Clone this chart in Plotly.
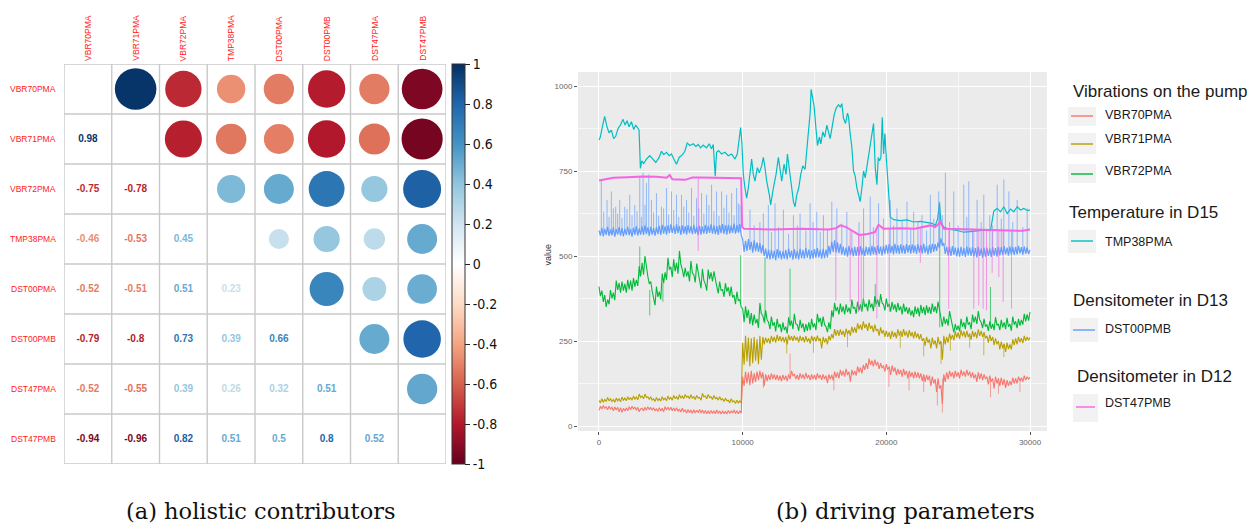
import plotly.graph_objects as go
from plotly.colors import hex_to_rgb, sample_colorscale

W, H = 1255, 524

# ---------------- (a) correlation matrix data ----------------
variables = ["VBR70PMA", "VBR71PMA", "VBR72PMA", "TMP38PMA",
             "DST00PMA", "DST00PMB", "DST47PMA", "DST47PMB"]
corr_lower = [
    [],
    [0.98],
    [-0.75, -0.78],
    [-0.46, -0.53, 0.45],
    [-0.52, -0.51, 0.51, 0.23],
    [-0.79, -0.80, 0.73, 0.39, 0.66],
    [-0.52, -0.55, 0.39, 0.26, 0.32, 0.51],
    [-0.94, -0.96, 0.82, 0.51, 0.50, 0.80, 0.52],
]
cbar_tickvals = [-1, -0.8, -0.6, -0.4, -0.2, 0, 0.2, 0.4, 0.6, 0.8, 1]
cbar_ticktext = ["-1", "-0.8", "-0.6", "-0.4", "-0.2", "0", "0.2", "0.4", "0.6", "0.8", "1"]
corr_palette = ["#67001F", "#B2182B", "#D6604D", "#F4A582", "#FDDBC7", "#FFFFFF",
                "#D1E5F0", "#92C5DE", "#4393C3", "#2166AC", "#053061"]

# ---------------- (b) driving parameters data ----------------
t_grid = list(range(0, 30001, 100))  # sample index positions (one row below = 1000 samples)

vbr70_y = [
    46, 58, 50, 60, 52, 56, 48, 58, 50, 55,
    45, 56, 47, 55, 42, 54, 40, 52, 44, 53,
    45, 57, 48, 58, 50, 56, 46, 55, 42, 50,
    52, 44, 55, 46, 57, 48, 55, 46, 54, 45,
    50, 43, 54, 44, 52, 42, 57, 47, 55, 46,
    55, 45, 53, 44, 54, 43, 50, 41, 52, 42,
    47, 38, 49, 39, 47, 37, 48, 38, 46, 39,
    49, 38, 47, 37, 46, 36, 45, 36, 46, 37,
    45, 36, 47, 37, 44, 35, 45, 36, 43, 35,
    46, 37, 45, 38, 47, 37, 45, 36, 44, 38,
    145, 118, 160, 125, 158, 120, 162, 125, 155, 130,
    160, 135, 162, 140, 158, 118, 152, 132, 150, 135,
    155, 138, 152, 136, 150, 134, 148, 132, 150, 136,
    148, 132, 152, 138, 162, 148, 152, 138, 150, 136,
    155, 140, 152, 138, 156, 140, 150, 135, 152, 138,
    150, 136, 155, 140, 150, 136, 152, 138, 148, 126,
    152, 138, 150, 134, 160, 142, 158, 140, 165, 148,
    162, 145, 168, 150, 160, 130, 165, 150, 162, 148,
    175, 158, 172, 155, 180, 165, 185, 168, 198, 180,
    192, 175, 195, 178, 188, 168, 185, 170, 178, 160,
    182, 165, 175, 150, 178, 160, 172, 150, 168, 152,
    165, 145, 168, 150, 162, 140, 162, 145, 158, 140,
    160, 142, 158, 140, 155, 132, 152, 130, 150, 135,
    148, 118, 145, 125, 138, 100, 140, 110, 120, 65,
    152, 130, 158, 138, 162, 145, 158, 140, 162, 145,
    158, 140, 165, 148, 160, 145, 165, 148, 160, 142,
    158, 140, 152, 130, 158, 138, 155, 135, 152, 138,
    145, 122, 148, 130, 140, 110, 145, 125, 140, 118,
    142, 120, 138, 112, 135, 118, 132, 120, 142, 125,
    140, 125, 145, 132, 142, 130, 148, 135, 145, 138,
    143,
]
vbr71_y = [
    75, 68, 80, 70, 78, 72, 84, 74, 80, 72,
    78, 70, 82, 74, 80, 71, 85, 76, 82, 74,
    86, 77, 84, 76, 88, 79, 85, 77, 94, 84,
    88, 80, 94, 84, 86, 78, 86, 76, 80, 72,
    84, 75, 80, 73, 86, 77, 82, 74, 88, 79,
    84, 76, 90, 80, 86, 78, 92, 82, 88, 80,
    93, 84, 88, 80, 92, 82, 86, 78, 90, 82,
    84, 76, 96, 86, 88, 80, 93, 84, 86, 78,
    90, 80, 84, 76, 86, 77, 80, 72, 82, 74,
    76, 68, 80, 71, 74, 66, 76, 68, 74, 68,
    245, 180, 265, 190, 260, 176, 258, 185, 262, 192,
    255, 182, 265, 195, 262, 240, 260, 245, 258, 242,
    265, 248, 262, 245, 268, 250, 264, 248, 262, 246,
    262, 240, 268, 252, 264, 250, 266, 252, 262, 246,
    265, 250, 262, 246, 264, 248, 258, 242, 265, 250,
    262, 248, 266, 250, 258, 228, 262, 246, 258, 240,
    265, 252, 270, 258, 285, 266, 282, 265, 284, 268,
    280, 262, 286, 270, 282, 266, 292, 275, 290, 274,
    302, 285, 298, 282, 308, 288, 300, 280, 304, 286,
    295, 276, 298, 280, 285, 266, 290, 272, 282, 262,
    280, 262, 276, 256, 280, 262, 275, 258, 284, 266,
    280, 262, 285, 266, 278, 260, 282, 264, 276, 258,
    278, 260, 272, 255, 270, 250, 258, 236, 262, 245,
    255, 228, 260, 240, 252, 228, 262, 240, 250, 195,
    265, 240, 262, 245, 272, 255, 268, 252, 278, 260,
    275, 256, 282, 264, 278, 260, 280, 262, 272, 254,
    280, 262, 276, 258, 284, 265, 280, 262, 276, 258,
    265, 245, 268, 250, 262, 238, 258, 240, 250, 225,
    248, 228, 242, 218, 245, 226, 240, 225, 255, 238,
    258, 240, 262, 246, 258, 244, 265, 250, 262, 252,
    260,
]
vbr72_y = [
    410, 382, 398, 365, 385, 350, 372, 358, 400, 375,
    392, 370, 428, 400, 420, 392, 425, 398, 418, 392,
    430, 402, 428, 398, 435, 410, 430, 412, 470, 440,
    480, 445, 500, 462, 440, 418, 425, 398, 372, 355,
    410, 380, 395, 372, 448, 420, 452, 430, 495, 460,
    468, 438, 490, 455, 480, 448, 515, 475, 460, 438,
    465, 440, 455, 425, 485, 450, 445, 422, 478, 450,
    430, 405, 462, 428, 418, 398, 460, 432, 452, 425,
    455, 425, 410, 390, 425, 398, 402, 380, 420, 395,
    408, 382, 410, 378, 385, 358, 395, 368, 372, 350,
    345, 305, 352, 318, 342, 300, 332, 296, 328, 302,
    315, 288, 362, 330, 325, 305, 340, 312, 305, 285,
    322, 295, 305, 278, 315, 290, 300, 276, 305, 282,
    292, 272, 320, 295, 310, 285, 330, 300, 298, 280,
    312, 288, 302, 276, 300, 280, 305, 282, 315, 290,
    302, 282, 330, 305, 318, 292, 322, 298, 292, 276,
    305, 285, 340, 320, 362, 338, 350, 328, 360, 335,
    352, 328, 358, 335, 348, 330, 372, 345, 350, 330,
    365, 340, 358, 336, 375, 350, 360, 338, 372, 348,
    360, 338, 382, 358, 372, 350, 388, 362, 358, 340,
    375, 350, 360, 336, 365, 342, 358, 335, 362, 340,
    352, 328, 360, 336, 350, 330, 348, 325, 340, 320,
    352, 330, 348, 322, 356, 332, 350, 326, 355, 332,
    350, 330, 360, 336, 352, 332, 365, 342, 318, 292,
    322, 300, 315, 295, 338, 312, 295, 275, 300, 282,
    295, 278, 315, 292, 305, 285, 322, 298, 305, 285,
    328, 305, 322, 300, 338, 312, 305, 288, 315, 292,
    298, 280, 308, 286, 300, 282, 320, 296, 300, 282,
    312, 290, 305, 285, 318, 292, 300, 280, 322, 298,
    308, 288, 315, 295, 312, 298, 330, 308, 328, 310,
    335,
]
dst00pmb_y = [
    575, 560, 583, 558, 580, 562, 586, 559, 578, 561,
    584, 557, 579, 563, 585, 560, 582, 558, 580, 562,
    586, 561, 579, 557, 583, 562, 588, 560, 581, 563,
    587, 562, 590, 564, 584, 559, 586, 563, 582, 560,
    585, 564, 589, 562, 592, 566, 587, 563, 590, 567,
    593, 568, 589, 565, 594, 567, 588, 562, 590, 566,
    587, 563, 591, 567, 588, 564, 592, 566, 586, 561,
    589, 563, 586, 566, 592, 565, 589, 568, 593, 566,
    590, 564, 588, 562, 591, 567, 594, 565, 590, 563,
    592, 566, 590, 568, 595, 566, 591, 569, 594, 562,
    548, 512, 545, 515, 550, 518, 542, 510, 546, 514,
    540, 512, 538, 508, 532, 500, 522, 492, 518, 490,
    518, 492, 515, 488, 520, 494, 516, 490, 514, 492,
    518, 490, 522, 495, 516, 489, 520, 492, 515, 490,
    521, 494, 518, 492, 524, 495, 519, 491, 517, 493,
    520, 495, 523, 496, 518, 492, 521, 494, 519, 496,
    530, 505, 542, 512, 546, 510, 540, 508, 536, 504,
    528, 502, 525, 498, 530, 503, 524, 499, 527, 500,
    526, 501, 529, 503, 524, 500, 528, 504, 526, 502,
    530, 505, 527, 503, 531, 506, 528, 502, 530, 506,
    533, 507, 535, 509, 530, 505, 536, 508, 532, 506,
    534, 508, 531, 506, 535, 510, 532, 507, 534, 509,
    531, 506, 535, 510, 532, 507, 536, 509, 530, 505,
    533, 508, 536, 512, 535, 515, 540, 525, 552, 530,
    538, 506, 528, 502, 526, 500, 529, 503, 525, 499,
    524, 498, 527, 501, 523, 497, 528, 502, 525, 500,
    526, 499, 523, 496, 527, 500, 522, 495, 524, 498,
    525, 500, 522, 497, 526, 501, 523, 498, 527, 502,
    526, 503, 529, 505, 525, 501, 528, 504, 526, 503,
    527, 505, 530, 508, 526, 504, 528, 507, 525, 506,
    518,
]

tmp38_x = [
    0, 93, 233, 395, 558, 698, 860, 1023, 1163, 1325,
    1488, 1674, 1814, 1953, 2093, 2255, 2418, 2558, 2720, 2790,
    2883, 2976, 3116, 3302, 3534, 3767, 3953, 4185, 4348, 4511,
    4697, 4883, 5045, 5208, 5394, 5580, 5813, 5975, 6138, 6324,
    6557, 6743, 6905, 7068, 7254, 7487, 7673, 7835, 7952, 8091,
    8184, 8324, 8533, 8765, 8998, 9231, 9463, 9626, 9765, 9858,
    9951, 10044, 10160, 10277, 10393, 10509, 10625, 10742, 10858, 11021,
    11160, 11323, 11439, 11555, 11672, 11858, 11950, 12137, 12323, 12486,
    12602, 12718, 12881, 13020, 13114, 13253, 13416, 13532, 13648, 13764,
    13904, 14043, 14183, 14345, 14462, 14578, 14694, 14764, 14880, 14973,
    15113, 15206, 15345, 15438, 15578, 15717, 15857, 15973, 16089, 16229,
    16368, 16508, 16670, 16787, 16903, 17019, 17159, 17298, 17368, 17484,
    17600, 17717, 17833, 17949, 18065, 18181, 18298, 18414, 18530, 18646,
    18763, 18879, 18995, 19111, 19228, 19344, 19437, 19530, 19623, 19716,
    19809, 19902, 19995, 20088, 20181, 20274, 20507, 20972, 21437, 21902,
    22367, 22832, 23181, 23413, 23576, 23692, 23808, 23994, 24459, 24924,
    25389, 25854, 26319, 26784, 27249, 27481, 27714, 27946, 28179, 28411,
    28644, 28876, 29109, 29341, 29574, 29807, 30000,
]
tmp38_y = [
    841, 850, 880, 911, 880, 862, 870, 845, 852, 875,
    885, 902, 885, 898, 880, 895, 872, 885, 875, 870,
    758, 780, 772, 785, 795, 785, 775, 790, 808, 798,
    805, 795, 800, 785, 770, 790, 798, 808, 832, 825,
    830, 822, 828, 818, 826, 818, 830, 815, 828, 735,
    805, 810, 800, 805, 795, 800, 785, 800, 840, 878,
    830, 740, 700, 670, 700, 740, 785, 740, 720, 760,
    745, 765, 790, 760, 720, 680, 650, 700, 740, 790,
    760, 720, 770, 740, 800, 760, 700, 660, 645, 680,
    700, 740, 765, 755, 820, 870, 920, 990, 960, 940,
    870, 825, 850, 830, 865, 850, 885, 860, 845, 880,
    915, 935, 945, 938, 948, 905, 890, 920, 910, 860,
    820, 750, 735, 700, 680, 660, 700, 750, 730, 760,
    800, 820, 860, 890, 760, 710, 790, 780, 790, 908,
    800, 860, 790, 720, 650, 615, 607, 604, 606, 600,
    602, 598, 596, 590, 610, 655, 600, 585, 578, 575,
    570, 572, 574, 576, 575, 632, 640, 630, 645, 625,
    638, 630, 645, 635, 640, 634, 635,
]

dst47pmb_x = [0, 500, 1000, 2000, 3000, 4000, 4700, 4930, 5100, 6000,
              6500, 7000, 8000, 9000, 9900, 9960, 10100, 12000, 14000, 16000,
              16500, 16800, 17200, 17600, 18100, 18700, 19200, 19460, 19800, 21000,
              22000, 23060, 23400, 23760, 24000, 26000, 28000, 29500, 30000]
dst47pmb_y = [722, 726, 730, 732, 734, 733, 730, 738, 726, 724,
              731, 731, 730, 728, 729, 585, 580, 578, 580, 578,
              582, 590, 585, 575, 562, 565, 570, 592, 580, 582,
              580, 590, 585, 600, 580, 578, 576, 574, 578]

# short excursions (spikes): position, level it leaves from, level it reaches
vbr70_spike_x = [11440, 13299, 16350, 20180, 21580, 22600, 23550, 23900, 27250, 27800, 29300]
vbr70_spike_from = [150, 148, 145, 165, 150, 145, 130, 140, 140, 130, 140]
vbr70_spike_to = [112, 213, 105, 115, 105, 100, 60, 40, 85, 95, 100]

vbr71_spike_x = [13066, 14927, 17300, 20970, 22600, 23808, 24459, 25800, 26784, 28179]
vbr71_spike_from = [255, 255, 270, 270, 245, 245, 265, 265, 270, 230]
vbr71_spike_to = [213, 215, 232, 230, 205, 183, 222, 230, 208, 203]

vbr72_spike_x = [2837, 3534, 4450, 9858, 11555, 13299, 19228, 23715, 27249]
vbr72_spike_from = [440, 400, 420, 360, 300, 295, 350, 290, 300]
vbr72_spike_to = [528, 325, 365, 502, 497, 463, 418, 660, 409]

dst00pmb_spike_x = [
    163, 558, 860, 1163, 1442, 1790, 2139, 2488, 2837, 3069,
    3302, 3464, 3650, 3999, 4348, 4697, 5045, 5394, 5743, 6092,
    6440, 6789, 7138, 7487, 7835, 8184, 8533, 8882, 9231, 9579, 9812,
    330, 700, 1000, 1300, 1600, 1950, 2300, 2650, 2950, 3200,
    3800, 4150, 4500, 4850, 5200, 5550, 5900, 6250, 6600, 6950,
    7300, 7650, 8000, 8350, 8700, 9050, 9400, 9700,
    10509, 11439, 11788, 12253, 12834, 13532, 13997, 14694, 15159, 15624,
    16205, 16554, 17252, 18414, 18879, 19460, 20274, 20739, 21437, 21902,
    22483, 23064, 23645, 24110, 24692, 25389, 25738, 26319, 26784, 27714,
    28179, 28528, 29109, 29807,
    10800, 11200, 12000, 12500, 13200, 13800, 14400, 14900, 15400, 15900,
    16900, 17600, 18100, 19100, 19800, 20500, 21100, 21700, 22200, 22800,
    23300, 23900, 24400, 25000, 25600, 26000, 26600, 27200, 27400, 28000,
    28800, 29500,
]
dst00pmb_spike_from = [
    568, 570, 565, 570, 568, 572, 570, 568, 575, 572,
    570, 575, 570, 572, 568, 575, 572, 575, 570, 572,
    575, 570, 572, 570, 575, 572, 570, 572, 575, 572, 570,
    572, 575, 570, 576, 572, 578, 575, 572, 580, 576,
    574, 578, 580, 576, 582, 578, 580, 576, 580, 578,
    582, 576, 580, 578, 582, 578, 580, 582,
    525, 515, 510, 508, 505, 505, 508, 508, 505, 505,
    520, 515, 510, 510, 512, 515, 515, 515, 518, 515,
    515, 515, 525, 530, 510, 508, 510, 505, 505, 508,
    510, 510, 512, 510,
    525, 520, 505, 505, 505, 505, 508, 508, 508, 505,
    515, 512, 512, 515, 515, 518, 518, 518, 518, 518,
    520, 535, 512, 510, 510, 510, 508, 510, 510, 512,
    512, 515,
]
dst00pmb_spike_to = [
    724, 665, 690, 645, 665, 645, 680, 650, 735, 745,
    715, 740, 665, 685, 645, 700, 690, 680, 680, 665,
    700, 670, 685, 680, 710, 690, 690, 680, 685, 700, 650,
    630, 615, 640, 625, 612, 638, 620, 632, 615, 650,
    628, 618, 640, 622, 635, 615, 645, 628, 618, 640,
    625, 650, 632, 618, 642, 628, 620, 655,
    636, 626, 650, 655, 636, 620, 625, 655, 630, 620,
    660, 640, 630, 640, 675, 655, 665, 640, 660, 630,
    620, 680, 690, 745, 690, 710, 720, 665, 680, 710,
    725, 690, 665, 640,
    590, 600, 570, 585, 565, 590, 575, 600, 570, 580,
    595, 575, 600, 585, 610, 590, 605, 580, 600, 575,
    610, 620, 600, 590, 615, 580, 600, 620, 590, 610,
    600, 585,
]

dst47pmb_spike_x = [6905, 16484, 17484, 18065, 18251, 18414, 19344, 20204, 22367, 23715,
                    24343, 26087, 26436, 26738, 26970, 27365, 27830, 28133, 28714]
dst47pmb_spike_from = [730, 580, 578, 565, 565, 565, 580, 580, 580, 595,
                       578, 578, 578, 578, 578, 578, 578, 576, 576]
dst47pmb_spike_to = [515, 369, 365, 335, 340, 355, 316, 335, 480, 645,
                     345, 345, 355, 345, 340, 450, 438, 365, 345]

series_names = ["VBR70PMA", "VBR71PMA", "VBR72PMA", "TMP38PMA", "DST00PMB", "DST47PMB"]
series_colors = ["#F8766D", "#B79F00", "#00BA38", "#00BFC4", "#619CFF", "#F564E3"]
legend_groups = ["Vibrations on the pump", "Temperature in D15",
                 "Densitometer in D13", "Densitometer in D12"]
legend_members = [["VBR70PMA", "VBR71PMA", "VBR72PMA"], ["TMP38PMA"], ["DST00PMB"], ["DST47PMB"]]
x_ticks = [0, 10000, 20000, 30000]
y_ticks = [0, 250, 500, 750, 1000]

# ---------------- styling / layout constants ----------------
SANS = "Liberation Sans, Arial, Helvetica, sans-serif"
NARROW = "Liberation Sans Narrow, DejaVu Sans Condensed, Arial Narrow, sans-serif"
SERIF = "DejaVu Serif, Liberation Serif, serif"

# pixel boxes (left, top, right, bottom)
MAT_BOX = (64, 64, 446, 464)
TS_BOX = (578, 72, 1047, 431)
legend_title_px = [(1071, 92), (1067, 212), (1071, 300), (1075, 376)]
legend_key_px = {  # box x0, x1, y0, y1, line y, label y
    "VBR70PMA": (1068, 1096, 107, 126, 116, 115),
    "VBR71PMA": (1068, 1096, 133, 154, 144, 139),
    "VBR72PMA": (1068, 1096, 164, 183, 174, 171),
    "TMP38PMA": (1068, 1096, 230, 253, 241, 242),
    "DST00PMB": (1070, 1098, 318, 342, 330, 329),
    "DST47PMB": (1073, 1098, 394, 422, 407, 403),
}
LABEL_X = 1103


def fx(p):
    return p / W


def fy(p):
    return 1 - p / H


fig = go.Figure()

# ---- correlation matrix ----
colorscale = [[i / (len(corr_palette) - 1), "rgb(%d,%d,%d)" % hex_to_rgb(c)]
              for i, c in enumerate(corr_palette)]

circ_x, circ_y, circ_v = [], [], []
num_x, num_y, num_v = [], [], []
for i, row in enumerate(corr_lower):
    for j, v in enumerate(row):
        num_x.append(variables[j]); num_y.append(variables[i]); num_v.append(v)
        circ_x.append(variables[i]); circ_y.append(variables[j]); circ_v.append(v)

MAX_D = 42.0
fig.add_trace(go.Scatter(
    x=circ_x, y=circ_y, mode="markers", xaxis="x", yaxis="y",
    hoverinfo="skip", showlegend=False,
    marker=dict(
        size=[abs(v) for v in circ_v], sizemode="area", sizeref=2.0 / MAX_D ** 2,
        color=circ_v, colorscale=colorscale, cmin=-1, cmax=1,
        line=dict(width=0), opacity=1,
        showscale=True,
        colorbar=dict(
            x=fx(452), xanchor="left", xpad=0,
            y=fy((MAT_BOX[1] + MAT_BOX[3]) / 2), yanchor="middle", ypad=0,
            len=MAT_BOX[3] - MAT_BOX[1], lenmode="pixels",
            thickness=13, thicknessmode="pixels",
            outlinewidth=1, outlinecolor="#333333", borderwidth=0,
            tickmode="array", tickvals=cbar_tickvals, ticktext=cbar_ticktext,
            ticks="outside", ticklen=5, tickwidth=1, tickcolor="#222222",
            tickfont=dict(family=NARROW, size=14, color="#111111"),
        ),
    ),
))

text_colors = sample_colorscale(colorscale, [(v + 1) / 2 for v in num_v])
fig.add_trace(go.Scatter(
    x=num_x, y=num_y, mode="text", xaxis="x", yaxis="y",
    text=["<b>%s</b>" % format(v, "g") for v in num_v],
    textposition="middle center",
    textfont=dict(family=SANS, size=10, color=text_colors),
    hoverinfo="skip", showlegend=False,
))

shapes = []
n = len(variables)
for k in range(n + 1):
    pos = k - 0.5
    shapes.append(dict(type="line", xref="x", yref="y", x0=pos, x1=pos, y0=-0.5, y1=n - 0.5,
                       line=dict(color="#C9C9C9", width=1.4), layer="below"))
    shapes.append(dict(type="line", xref="x", yref="y", x0=-0.5, x1=n - 0.5, y0=pos, y1=pos,
                       line=dict(color="#C9C9C9", width=1.4), layer="below"))

annotations = []
mat_w = MAT_BOX[2] - MAT_BOX[0]
mat_h = MAT_BOX[3] - MAT_BOX[1]
for name in variables:
    annotations.append(dict(text=name, xref="x domain", yref="y", x=-6 / mat_w, y=name,
                            xanchor="right", yanchor="middle", showarrow=False,
                            font=dict(family=SANS, size=8.5, color="#FF1A1A")))
    annotations.append(dict(text=name, xref="x", yref="y domain", x=name, y=1 + 1 / mat_h,
                            xanchor="center", yanchor="bottom", textangle=-90, showarrow=False,
                            font=dict(family=SANS, size=8.5, color="#FF1A1A")))

# ---- time series ----
def spikes(xs, froms, tos):
    px, py = [], []
    for x, a, b in zip(xs, froms, tos):
        px += [x, x, None]
        py += [a, b, None]
    return px, py


main_data = {
    "VBR70PMA": (t_grid, vbr70_y),
    "VBR71PMA": (t_grid, vbr71_y),
    "VBR72PMA": (t_grid, vbr72_y),
    "TMP38PMA": (tmp38_x, tmp38_y),
    "DST00PMB": (t_grid, dst00pmb_y),
    "DST47PMB": (dst47pmb_x, dst47pmb_y),
}
spike_data = {
    "VBR70PMA": (vbr70_spike_x, vbr70_spike_from, vbr70_spike_to),
    "VBR71PMA": (vbr71_spike_x, vbr71_spike_from, vbr71_spike_to),
    "VBR72PMA": (vbr72_spike_x, vbr72_spike_from, vbr72_spike_to),
    "DST00PMB": (dst00pmb_spike_x, dst00pmb_spike_from, dst00pmb_spike_to),
    "DST47PMB": (dst47pmb_spike_x, dst47pmb_spike_from, dst47pmb_spike_to),
}
line_width = {"VBR70PMA": 1.1, "VBR71PMA": 1.1, "VBR72PMA": 1.1, "TMP38PMA": 1.2,
              "DST00PMB": 1.2, "DST47PMB": 2}

for name, color in zip(series_names, series_colors):
    xs, ys = main_data[name]
    if name in spike_data:
        sx, sy = spikes(*spike_data[name])
        fig.add_trace(go.Scatter(x=sx, y=sy, mode="lines", xaxis="x2", yaxis="y2",
                                 line=dict(color=color, width=1), opacity=0.65,
                                 hoverinfo="skip", showlegend=False))
    fig.add_trace(go.Scatter(x=xs, y=ys, mode="lines", xaxis="x2", yaxis="y2",
                             line=dict(color=color, width=line_width[name]),
                             hoverinfo="skip", showlegend=False))

shapes.append(dict(type="rect", xref="x2 domain", yref="y2 domain", x0=0, x1=1, y0=0, y1=1,
                   fillcolor="#EBEBEB", line=dict(width=0), layer="below"))

annotations.append(dict(text="value", xref="paper", yref="paper", x=fx(547),
                        y=fy((TS_BOX[1] + TS_BOX[3]) / 2 + 3), textangle=-90,
                        xanchor="center", yanchor="middle", showarrow=False,
                        font=dict(family=SANS, size=9, color="#333333")))

# ---- manual legend ----
color_of = dict(zip(series_names, series_colors))
for title, (tx, ty), members in zip(legend_groups, legend_title_px, legend_members):
    annotations.append(dict(text=title, xref="paper", yref="paper", x=fx(tx), y=fy(ty),
                            xanchor="left", yanchor="middle", showarrow=False,
                            font=dict(family=SANS, size=17, color="#1A1A1A")))
    for m in members:
        bx0, bx1, by0, by1, ly, lab_y = legend_key_px[m]
        shapes.append(dict(type="rect", xref="paper", yref="paper",
                           x0=fx(bx0), x1=fx(bx1), y0=fy(by1), y1=fy(by0),
                           fillcolor="#F2F2F2", line=dict(width=0)))
        shapes.append(dict(type="line", xref="paper", yref="paper",
                           x0=fx(bx0 + 3), x1=fx(bx1 - 3), y0=fy(ly), y1=fy(ly),
                           line=dict(color=color_of[m], width=2), opacity=0.7))
        annotations.append(dict(text=m, xref="paper", yref="paper", x=fx(LABEL_X), y=fy(lab_y),
                                xanchor="left", yanchor="middle", showarrow=False,
                                font=dict(family=SANS, size=12.5, color="#1A1A1A")))

# ---- captions ----
annotations.append(dict(text="(a) holistic contributors", xref="paper", yref="paper",
                        x=fx(261), y=fy(511), xanchor="center", yanchor="middle", showarrow=False,
                        font=dict(family=SERIF, size=22.5, color="#111111")))
annotations.append(dict(text="(b) driving parameters", xref="paper", yref="paper",
                        x=fx(905), y=fy(511), xanchor="center", yanchor="middle", showarrow=False,
                        font=dict(family=SERIF, size=22.5, color="#111111")))

tick_font = dict(family=SANS, size=8, color="#666666")
fig.update_layout(
    width=W, height=H, margin=dict(l=0, r=0, t=0, b=0),
    paper_bgcolor="white", plot_bgcolor="rgba(0,0,0,0)",
    showlegend=False,
    xaxis=dict(domain=[fx(MAT_BOX[0]), fx(MAT_BOX[2])], anchor="y",
               type="category", categoryorder="array", categoryarray=variables,
               range=[-0.5, n - 0.5], showgrid=False, zeroline=False,
               showticklabels=False, ticks="", showline=False),
    yaxis=dict(domain=[fy(MAT_BOX[3]), fy(MAT_BOX[1])], anchor="x",
               type="category", categoryorder="array", categoryarray=variables,
               range=[n - 0.5, -0.5], showgrid=False, zeroline=False,
               showticklabels=False, ticks="", showline=False),
    xaxis2=dict(domain=[fx(TS_BOX[0]), fx(TS_BOX[2])], anchor="y2",
                range=[-1461, 31183], tickmode="array", tickvals=x_ticks,
                ticktext=[str(v) for v in x_ticks],
                showgrid=True, gridcolor="white", gridwidth=1.1, zeroline=False, showline=False,
                ticks="outside", ticklen=3, tickwidth=1, tickcolor="#555555",
                tickfont=tick_font,
                minor=dict(tickmode="array", tickvals=[-5000, 5000, 15000, 25000],
                           showgrid=True, gridcolor="#F7F7F7", gridwidth=0.6, ticks="")),
    yaxis2=dict(domain=[fy(TS_BOX[3]), fy(TS_BOX[1])], anchor="x2",
                range=[-14.7, 1041.2], tickmode="array", tickvals=y_ticks,
                ticktext=[str(v) for v in y_ticks],
                showgrid=True, gridcolor="white", gridwidth=1.1, zeroline=False, showline=False,
                ticks="outside", ticklen=3, tickwidth=1, tickcolor="#555555",
                tickfont=tick_font,
                minor=dict(tickmode="array", tickvals=[125, 375, 625, 875],
                           showgrid=True, gridcolor="#F7F7F7", gridwidth=0.6, ticks="")),
    shapes=shapes,
    annotations=annotations,
)

# the page's default 8px body margin would shift the 1255x524 figure; remove it
fig.write_html("out.html", config={"displayModeBar": False},
               post_script="document.body.style.margin='0';"
                           "document.body.style.overflow='hidden';")
